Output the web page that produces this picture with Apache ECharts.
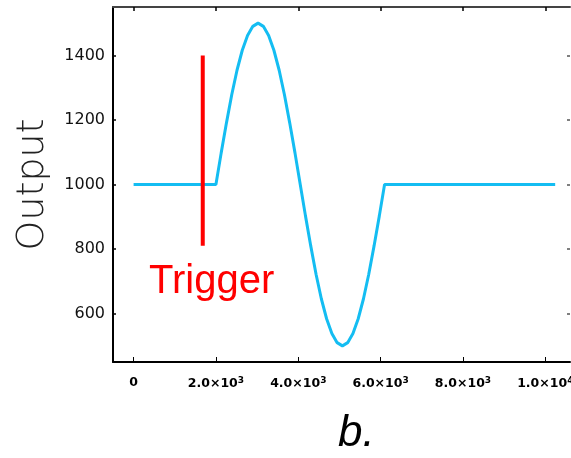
<!DOCTYPE html>
<html>
<head>
<meta charset="utf-8">
<script src="https://cdn.jsdelivr.net/npm/echarts@6/dist/echarts.min.js"></script>
<style>
  html, body { margin: 0; padding: 0; background: #fff; }
  #chart { width: 571px; height: 458px; }
</style>
</head>
<body>
<div id="chart"></div>
<script>
// waveform (time, output)
const timeValues = [0, 2000, 2128, 2256, 2384, 2512, 2640, 2768, 2896, 3024, 3152, 3280, 3408, 3536, 3664, 3792, 3920,
  4048, 4176, 4304, 4432, 4560, 4688, 4816, 4944, 5072, 5200, 5328, 5456, 5584, 5712, 5840, 5968, 6096, 10240];
const outputValues = [1000, 1000, 1098, 1191, 1278, 1354, 1416, 1462, 1490, 1500, 1490, 1462, 1416, 1354, 1278, 1191, 1098,
  1000, 902, 809, 722, 646, 584, 538, 510, 500, 510, 538, 584, 646, 722, 809, 902, 1000, 1000];
// trigger marker
const triggerTime = [1680, 1680];
const triggerOutput = [1400, 810];
// ticks
const xTicks = [0, 2000, 4000, 6000, 8000, 10000];
const yTicks = [600, 800, 1000, 1200, 1400];

const waveData = timeValues.map((t, i) => [t, outputValues[i]]);
const triggerData = triggerTime.map((t, i) => [t, triggerOutput[i]]);

function sciLabel(v) {
  if (v === 0) return "0";
  const exp = Math.floor(Math.log10(v));
  const mant = (v / Math.pow(10, exp)).toFixed(1);
  return mant + "×10{sup|" + exp + "}";
}

const chart = echarts.init(document.getElementById("chart"));
chart.setOption({
  animation: false,
  grid: { left: 113, right: 1, top: 7, bottom: 96, outerBoundsMode: "none", containLabel: false },
  xAxis: [
    {
      type: "value",
      min: -500,
      max: 10600,
      splitLine: { show: false },
      axisLine: { onZero: false, lineStyle: { color: "#000", width: 2 } },
      axisTick: { inside: true, length: 5, customValues: xTicks, lineStyle: { color: "#000", width: 1 } },
      axisLabel: {
        customValues: xTicks,
        formatter: sciLabel,
        margin: 14,
        hideOverlap: false,
        color: "#000",
        fontFamily: "DejaVu Sans",
        fontWeight: "bold",
        fontSize: 12.5,
        rich: {
          sup: { fontSize: 9, fontWeight: "bold", fontFamily: "DejaVu Sans", verticalAlign: "top", padding: [0, 0, 6, 0] }
        }
      }
    },
    {
      type: "value",
      position: "top",
      min: -500,
      max: 10600,
      splitLine: { show: false },
      axisLine: { onZero: false, lineStyle: { color: "#444", width: 2 } },
      axisTick: { inside: true, length: 4, customValues: xTicks, lineStyle: { color: "#000", width: 1.5 } },
      axisLabel: { show: false }
    }
  ],
  yAxis: [
    {
      type: "value",
      min: 450,
      max: 1550,
      name: "Output",
      nameLocation: "middle",
      nameRotate: 90,
      nameGap: 61,
      nameTextStyle: { fontFamily: "DejaVu Sans", fontWeight: 200, fontSize: 38, color: "#222" },
      splitLine: { show: false },
      axisLine: { onZero: false, lineStyle: { color: "#000", width: 2 } },
      axisTick: { inside: true, length: 3, customValues: yTicks, lineStyle: { color: "#000", width: 1.5 } },
      axisLabel: {
        customValues: yTicks,
        formatter: (v) => String(v),
        margin: 8,
        color: "#111",
        fontFamily: "DejaVu Sans",
        fontSize: 16
      }
    },
    {
      type: "value",
      position: "right",
      min: 450,
      max: 1550,
      splitLine: { show: false },
      axisLine: { show: false, onZero: false },
      axisTick: { inside: true, length: 3, customValues: yTicks, lineStyle: { color: "#555", width: 1.5 } },
      axisLabel: { show: false }
    }
  ],
  series: [
    {
      type: "line",
      data: waveData,
      symbol: "none",
      lineStyle: { color: "#14bdf2", width: 3 }
    },
    {
      type: "line",
      data: triggerData,
      symbol: "none",
      lineStyle: { color: "#ff0000", width: 4 }
    }
  ],
  graphic: [
    {
      type: "text",
      left: 149,
      top: 262,
      style: { text: "Trigger", fill: "#ff0000", fontSize: 40, fontFamily: "Liberation Sans" }
    },
    {
      type: "text",
      left: 338,
      top: 412,
      style: { text: "b.", fill: "#000", fontSize: 44, fontStyle: "italic", fontFamily: "Liberation Sans" }
    }
  ]
});
</script>
</body>
</html>
